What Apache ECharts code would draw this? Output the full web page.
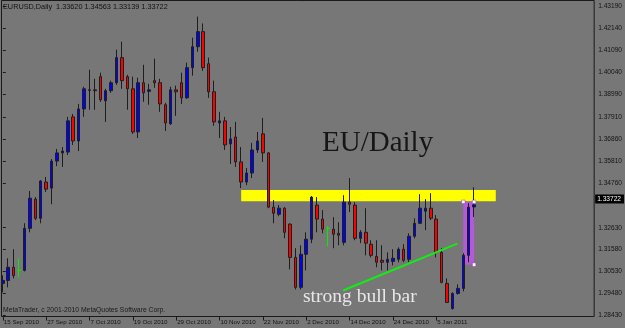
<!DOCTYPE html>
<html><head><meta charset="utf-8">
<script src="https://cdn.jsdelivr.net/npm/echarts@6/dist/echarts.min.js"></script>
<style>html,body{margin:0;padding:0;background:#777777;}#c{width:625px;height:328px;}</style>
</head><body><div id="c"></div><script>
// Daily EURUSD bars, 15 Sep 2010 .. 14 Jan 2011 (one value per trading day)
const opens = [1.2997,1.3011,1.3074,1.3059,1.3059,1.3260,1.3399,1.3308,1.3481,1.3452,
1.3581,1.3620,1.3624,1.3792,1.3677,1.3830,1.3919,1.3921,1.3984,1.3869,
1.3917,1.3955,1.4075,1.3984,1.3926,1.3720,1.3955,1.3914,1.3965,1.3955,
1.3850,1.3759,1.3921,1.3955,1.3883,1.4027,1.4127,1.4199,1.4046,1.3912,
1.3763,1.3773,1.3663,1.3696,1.3577,1.3481,1.3524,1.3634,1.3711,1.3620,
1.3361,1.3327,1.3356,1.3280,1.3121,1.2978,1.3136,1.3208,1.3371,1.3304,
1.3260,1.3256,1.3236,1.3193,1.3385,1.3371,1.3212,1.3241,1.3184,1.3126,
1.3107,1.3098,1.3102,1.3112,1.3160,1.3112,1.3222,1.3284,1.3342,1.3356,
1.3304,1.3145,1.2997,1.2877,1.2949,1.2973,1.3131,1.33620];
const closes = [1.3011,1.3074,1.3035,1.3059,1.3260,1.3404,1.3308,1.3486,1.3447,1.3581,
1.3620,1.3629,1.3773,1.3677,1.3830,1.3926,1.3921,1.3917,1.3874,1.3917,
1.3955,1.4075,1.3965,1.3926,1.3720,1.3955,1.3907,1.3921,1.3955,1.3854,
1.3763,1.3921,1.3912,1.3883,1.4027,1.4127,1.4199,1.4027,1.3912,1.3768,
1.3773,1.3658,1.3687,1.3577,1.3481,1.3524,1.3634,1.3677,1.3620,1.3361,
1.3332,1.3356,1.3241,1.3121,1.2978,1.3136,1.3208,1.3409,1.3304,1.3256,
1.3260,1.3232,1.3227,1.3385,1.3375,1.3212,1.3241,1.3189,1.3131,1.3098,
1.3098,1.3112,1.3117,1.3160,1.3107,1.3222,1.3284,1.3356,1.3356,1.3308,
1.3145,1.3002,1.2906,1.2949,1.2973,1.3131,1.3361,1.33722];
const highs = [1.3035,1.3117,1.3160,1.3117,1.3284,1.3438,1.3409,1.3490,1.3505,1.3591,
1.3639,1.3648,1.3792,1.3806,1.3854,1.3936,1.4017,1.3974,1.4003,1.3926,
1.3965,1.4113,1.4151,1.3993,1.3984,1.3979,1.4041,1.3950,1.4070,1.3974,
1.3859,1.3936,1.3941,1.4003,1.4051,1.4170,1.4271,1.4238,1.4075,1.3965,
1.3816,1.3792,1.3744,1.3768,1.3648,1.3548,1.3668,1.3720,1.3787,1.3624,
1.3395,1.3371,1.3361,1.3284,1.3165,1.3179,1.3241,1.3414,1.3409,1.3347,
1.3270,1.3313,1.3289,1.3418,1.3500,1.3385,1.3251,1.3356,1.3203,1.3203,
1.3179,1.3145,1.3160,1.3169,1.3184,1.3236,1.3308,1.3423,1.3399,1.3428,
1.3323,1.3165,1.3021,1.2954,1.2992,1.3141,1.3380,1.34563];
const lows = [1.2954,1.2978,1.3021,1.3026,1.3054,1.3241,1.3299,1.3284,1.3433,1.3375,
1.3557,1.3553,1.3610,1.3658,1.3629,1.3792,1.3826,1.3826,1.3864,1.3768,
1.3907,1.3945,1.3926,1.3826,1.3711,1.3691,1.3864,1.3850,1.3931,1.3816,
1.3725,1.3754,1.3797,1.3854,1.3878,1.3989,1.4103,1.4012,1.3883,1.3749,
1.3691,1.3634,1.3567,1.3553,1.3452,1.3466,1.3500,1.3620,1.3577,1.3356,
1.3284,1.3318,1.3212,1.3064,1.2968,1.2968,1.3059,1.3189,1.3241,1.3236,
1.3174,1.3165,1.3179,1.3179,1.3337,1.3203,1.3189,1.3131,1.3121,1.3074,
1.3059,1.3059,1.3083,1.3098,1.3098,1.3098,1.3212,1.3280,1.3251,1.3299,
1.3121,1.2997,1.2904,1.2872,1.2944,1.2959,1.3098,1.33139];

const dateLabels = ['15 Sep 2010','27 Sep 2010','7 Oct 2010','19 Oct 2010','29 Oct 2010','10 Nov 2010','22 Nov 2010','2 Dec 2010','14 Dec 2010','24 Dec 2010','5 Jan 2011'];
const dateLabelBars = [0,8,16,24,32,40,48,56,64,72,80];
const priceLabels = ['1.43190','1.42140','1.41090','1.40040','1.38990','1.37910','1.36860','1.35810','1.34760','1.32630','1.31580','1.30530','1.29480','1.28430'];
const lastPrice = 1.33722;
const headerText = 'EURUSD,Daily  1.33620 1.34563 1.33139 1.33722';
const copyrightText = 'MetaTrader, c 2001-2010 MetaQuotes Software Corp.';
// drawn objects (bar index / price)
const resistanceZone = {x: [44, 91], price: [1.34424, 1.33897]};
const bullBarBox = {x: [85, 87], price: [1.33864, 1.30865]};
const trendLine = {x: [62.8, 83.9], price: [1.2963, 1.3187]};
const chartTitle = 'EU/Daily';
const noteText = 'strong bull bar';

const candleData = opens.map((o, i) => {
  const item = {value: [i, o, closes[i], lows[i], highs[i]]};
  if (o === closes[i]) item.itemStyle = {color: '#00ee00', color0: '#00ee00', borderColor: '#00ee00', borderColor0: '#00ee00'};
  return item;
});
const priceTicks = priceLabels.map(Number);

const chart = echarts.init(document.getElementById('c'), null, {renderer: 'canvas'});
chart.setOption({
  animation: false,
  backgroundColor: '#777777',
  grid: {left: 1.5, right: 25.5, top: 0.5, bottom: 11.5, show: true, borderColor: '#1a1a1a', borderWidth: 1, backgroundColor: 'transparent'},
  xAxis: {
    type: 'value', min: -0.24, max: 109.16,
    axisLine: {show: false}, splitLine: {show: false},
    axisTick: {show: true, customValues: dateLabelBars, length: 4, lineStyle: {color: '#1a1a1a'}},
    axisLabel: {customValues: dateLabelBars, formatter: v => dateLabels[dateLabelBars.indexOf(Math.round(v))],
      align: 'left', margin: 3, fontSize: 6.2, color: '#141414', fontFamily: 'Liberation Sans', padding: [0,0,0,1]}
  },
  yAxis: {
    type: 'value', position: 'right', min: 1.28389, max: 1.43477, scale: true,
    axisLine: {show: false}, splitLine: {show: false},
    axisTick: {show: true, customValues: priceTicks, length: 3, lineStyle: {color: '#1a1a1a'}},
    axisLabel: {customValues: priceTicks, formatter: v => v.toFixed(5), margin: 4, fontSize: 6.6, color: '#141414', fontFamily: 'Liberation Sans'}
  },
  series: [
    {
      type: 'candlestick', z: 2,
      encode: {x: 0, y: [1, 2, 3, 4]},
      barWidth: 3,
      itemStyle: {color: '#0000ff', color0: '#ff0000', borderColor: '#1e1e1e', borderColor0: '#1e1e1e', borderWidth: 1},
      data: candleData,
      markArea: {
        silent: true, z: 1,
        data: [
          [{xAxis: resistanceZone.x[0], yAxis: resistanceZone.price[0], itemStyle: {color: '#ffff00', opacity: 1}}, {xAxis: resistanceZone.x[1], yAxis: resistanceZone.price[1]}],
          [{xAxis: bullBarBox.x[0], yAxis: bullBarBox.price[0], itemStyle: {color: '#b45ad8', opacity: 1}}, {xAxis: bullBarBox.x[1], yAxis: bullBarBox.price[1]}]
        ]
      },
      markLine: {
        silent: true, symbol: 'none', animation: false,
        lineStyle: {color: 'rgba(0,0,0,0)', width: 1, opacity: 1},
        label: {show: true, position: 'end', distance: 1, formatter: lastPrice.toFixed(5), backgroundColor: '#000', color: '#fff',
          fontSize: 6.6, fontFamily: 'Liberation Sans', padding: [1, 3, 1, 2], opacity: 1},
        data: [{yAxis: lastPrice}]
      }
    },
    {
      type: 'line', z: 5, symbol: 'none', silent: true,
      lineStyle: {color: '#11ee11', width: 2},
      data: trendLine.x.map((x, i) => [x, trendLine.price[i]])
    },
    {
      type: 'scatter', z: 6, symbol: 'rect', symbolSize: 3.5, silent: true,
      itemStyle: {color: '#ffffff', borderColor: '#8a3ab0', borderWidth: 0.5, opacity: 1},
      data: [[bullBarBox.x[0], bullBarBox.price[0]], [bullBarBox.x[1], bullBarBox.price[0]], [bullBarBox.x[1], bullBarBox.price[1]]]
    }
  ],
  graphic: [
    {type: 'text', left: 3, top: 3, z: 10, style: {text: headerText, font: '7.3px "Liberation Sans"', fill: '#111'}},
    {type: 'text', left: 3, top: 307, z: 10, style: {text: copyrightText, font: '6.8px "Liberation Sans"', fill: '#1a1a1a'}},
    {type: 'text', x: 322, y: 143, z: 10, style: {text: chartTitle, font: '29px "Liberation Serif"', fill: '#161616', verticalAlign: 'middle'}},
    {type: 'text', x: 303, y: 297, z: 10, style: {text: noteText, font: '19.5px "Liberation Serif"', fill: '#e8e8e8', verticalAlign: 'middle'}}
  ]
});
</script></body></html>
